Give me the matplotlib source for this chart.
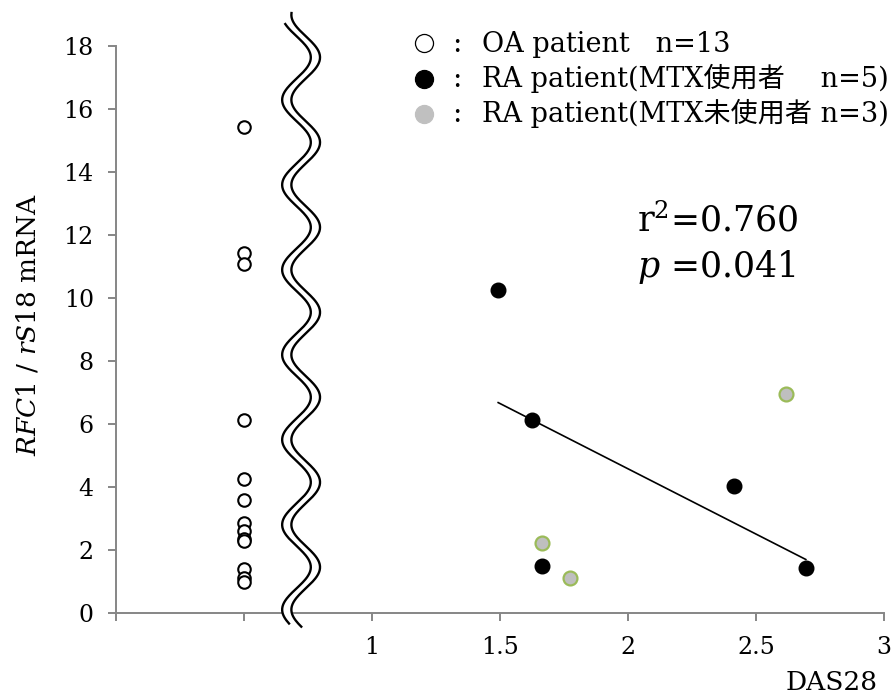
import numpy as np
import matplotlib.pyplot as plt

plt.rcParams['font.family'] = ['DejaVu Serif', 'Noto Sans CJK JP']
plt.rcParams['mathtext.fontset'] = 'dejavuserif'

# OA patients: no DAS28, drawn in a separate column left of the axis break
oa_x = 0.5
oa_rfc1 = [15.42, 11.43, 11.08, 6.13, 4.25, 3.56, 2.86, 2.6, 2.35, 2.27, 1.37, 1.09, 0.98]

# RA patients on MTX
mtx_das28 = [1.493, 1.624, 1.664, 2.415, 2.695]
mtx_rfc1 = [10.25, 6.11, 1.49, 4.01, 1.43]

# RA patients not on MTX
nomtx_das28 = [1.663, 1.773, 2.616]
nomtx_rfc1 = [2.20, 1.09, 6.93]

x_ticks = [0, 0.5, 1, 1.5, 2, 2.5, 3]
x_ticklabels = ['', '', '1', '1.5', '2', '2.5', '3']
y_ticks = list(range(0, 19, 2))

legend_labels = ['OA patient   n=13',
                 'RA patient(MTX使用者\u3000 n=5)',
                 'RA patient(MTX未使用者 n=3)']
r2_text = 'r$^2$=0.760'
p_text = '$p$ =0.041'

axis_grey = '#868686'
green_edge = '#9bbb59'
grey_fill = '#bfbfbf'

fig = plt.figure(figsize=(8.96, 6.95), dpi=100)
ax = fig.add_axes([0.1295, 0.1187, 0.857, 0.815])

# scatter groups
ax.plot([oa_x] * len(oa_rfc1), oa_rfc1, 'o', ms=9, mfc='white', mec='black',
        mew=1.5, zorder=4)
ax.plot(mtx_das28, mtx_rfc1, 'o', ms=10.5, mfc='black', mec='black', zorder=4)
ax.plot(nomtx_das28, nomtx_rfc1, 'o', ms=10, mfc=grey_fill, mec=green_edge,
        mew=1.6, zorder=4)

# linear fit over the MTX group
slope, intercept = np.polyfit(mtx_das28, mtx_rfc1, 1)
fit_x = np.array([min(mtx_das28), max(mtx_das28)])
ax.plot(fit_x, slope * fit_x + intercept, color='black', lw=1.2, zorder=3)

ax.set_xlim(0, 3)
ax.set_ylim(0, 18)
ax.set_xticks(x_ticks)
ax.set_xticklabels(x_ticklabels)
ax.set_yticks(y_ticks)

for side in ['top', 'right']:
    ax.spines[side].set_visible(False)
for side in ['left', 'bottom']:
    ax.spines[side].set_color(axis_grey)
    ax.spines[side].set_linewidth(1.4)
ax.tick_params(axis='both', colors=axis_grey, labelcolor='black', width=1.4,
               length=6, labelsize=17)
ax.tick_params(axis='y', pad=10)
ax.tick_params(axis='x', pad=11)

ax.set_xlabel('DAS28', fontsize=19, loc='right')
ax.xaxis.set_label_coords(0.992, -0.136)
ax.xaxis.label.set_va('baseline')

ax.set_ylabel('$\\mathit{RFC1}$ / $\\mathit{rS18}$ mRNA', fontsize=19)
ax.yaxis.set_label_coords(-0.115, 0.508)
ax.yaxis.label.set_va('center')

# wavy double-line axis break between OA column and DAS28 scale
amp = 0.056
period = 2.70
wave = lambda y, c: c - amp * np.cos(2 * np.pi * (y - 16.29) / period)
y_left = np.linspace(-0.35, 18.7, 600)
y_right = np.linspace(-0.45, 19.05, 600)
ax.fill_betweenx(y_left, wave(y_left, 0.705), wave(y_left, 0.741),
                 color='white', zorder=5, clip_on=False)
ax.plot(wave(y_left, 0.705), y_left, color='black', lw=1.7, zorder=6,
        clip_on=False)
ax.plot(wave(y_right, 0.741), y_right, color='black', lw=1.7, zorder=6,
        clip_on=False)

# statistics
ax.text(0.679, 0.672, r2_text, transform=ax.transAxes, fontsize=25,
        va='baseline', ha='left')
ax.text(0.679, 0.592, p_text, transform=ax.transAxes, fontsize=25,
        va='baseline', ha='left')

# hand-built legend
marker_styles = [dict(mfc='white', mec='black', mew=0.9),
                 dict(mfc='black', mec='black', mew=0.9),
                 dict(mfc='#c0c0c0', mec='#c0c0c0', mew=0.9)]
marker_y = [1.005, 0.942, 0.880]
text_y = [0.989, 0.928, 0.866]
for style, my, ty, label in zip(marker_styles, marker_y, text_y, legend_labels):
    ax.plot([0.401], [my], 'o', ms=13, transform=ax.transAxes, clip_on=False,
            **style)
    ax.text(0.444, ty, ':', transform=ax.transAxes, fontsize=20,
            ha='center', va='baseline')
    ax.text(0.4766, ty, label, transform=ax.transAxes, fontsize=19.5,
            ha='left', va='baseline')

fig.savefig('out.png', dpi=100)
